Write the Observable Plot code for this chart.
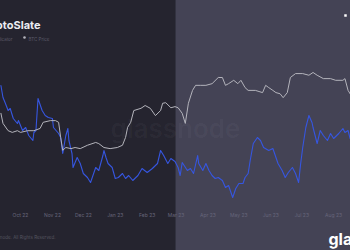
<!DOCTYPE html>
<html><head><meta charset="utf-8">
<script src="https://cdn.jsdelivr.net/npm/d3@7"></script>
<script src="https://cdn.jsdelivr.net/npm/@observablehq/plot@0.6"></script>
<style>html,body{margin:0;padding:0;background:#25242f;overflow:hidden}</style>
</head><body><div id="chart"></div><script>
// BTC price (USD)
const priceDates = ["2022-09-12","2022-09-14","2022-09-19","2022-09-23","2022-09-28","2022-10-01","2022-10-08","2022-10-14","2022-10-20","2022-10-23","2022-10-30","2022-11-04","2022-11-07","2022-11-09","2022-11-11","2022-11-14","2022-11-19","2022-11-23","2022-11-28","2022-12-05","2022-12-13","2022-12-16","2022-12-21","2022-12-27","2023-01-03","2023-01-08","2023-01-11","2023-01-13","2023-01-16","2023-01-19","2023-01-26","2023-01-30","2023-02-04","2023-02-09","2023-02-14","2023-02-16","2023-02-19","2023-02-24","2023-02-28","2023-03-03","2023-03-07","2023-03-10","2023-03-13","2023-03-17","2023-03-20","2023-03-25","2023-03-30","2023-04-05","2023-04-11","2023-04-15","2023-04-18","2023-04-21","2023-04-26","2023-04-30","2023-05-03","2023-05-07","2023-05-10","2023-05-17","2023-05-24","2023-05-27","2023-05-30","2023-06-03","2023-06-06","2023-06-10","2023-06-13","2023-06-17","2023-06-20","2023-06-25","2023-07-02","2023-07-08","2023-07-12","2023-07-16","2023-07-22","2023-07-29","2023-08-03","2023-08-10","2023-08-12","2023-08-15","2023-08-17"];
const priceValues = [22600,20800,19500,19200,19500,19200,19500,19500,19900,21000,21300,21300,21000,18300,16000,16500,16300,16500,16300,16900,17400,17200,16500,16300,16500,16900,18300,20100,21000,23100,23500,24000,23500,22200,23100,24400,24500,23600,23800,23600,22600,20800,24400,26700,27600,27600,27600,27900,29000,29000,27600,27900,28500,27900,28500,27200,26700,26700,26300,27600,27200,26700,26300,26100,25400,26300,29000,29700,29700,29400,29900,29400,28800,28800,28500,28500,28800,26700,26100];

// On-chain metric (index units)
const metricDates = ["2022-09-12","2022-09-14","2022-09-16","2022-09-19","2022-09-21","2022-09-24","2022-09-28","2022-09-29","2022-10-03","2022-10-06","2022-10-09","2022-10-13","2022-10-14","2022-10-16","2022-10-18","2022-10-22","2022-10-25","2022-10-28","2022-11-01","2022-11-02","2022-11-07","2022-11-09","2022-11-11","2022-11-14","2022-11-16","2022-11-17","2022-11-20","2022-11-21","2022-11-25","2022-11-28","2022-12-01","2022-12-05","2022-12-08","2022-12-13","2022-12-16","2022-12-20","2022-12-21","2022-12-23","2022-12-25","2022-12-29","2023-01-01","2023-01-04","2023-01-08","2023-01-11","2023-01-14","2023-01-18","2023-01-23","2023-01-27","2023-02-01","2023-02-06","2023-02-11","2023-02-14","2023-02-17","2023-02-21","2023-02-24","2023-02-28","2023-03-03","2023-03-05","2023-03-07","2023-03-12","2023-03-15","2023-03-18","2023-03-22","2023-03-23","2023-03-27","2023-03-30","2023-04-02","2023-04-05","2023-04-08","2023-04-11","2023-04-15","2023-04-18","2023-04-21","2023-04-25","2023-04-28","2023-05-01","2023-05-05","2023-05-07","2023-05-10","2023-05-12","2023-05-15","2023-05-19","2023-05-22","2023-05-25","2023-05-30","2023-06-03","2023-06-06","2023-06-08","2023-06-12","2023-06-15","2023-06-18","2023-06-22","2023-06-25","2023-06-28","2023-06-30","2023-07-02","2023-07-05","2023-07-08","2023-07-11","2023-07-12","2023-07-16","2023-07-19","2023-07-22","2023-07-26","2023-07-29","2023-08-01","2023-08-06","2023-08-10","2023-08-12","2023-08-15","2023-08-17"];
const metricValues = [120,108,103,95,97,87,82,85,75,78,70,65,73,75,107,95,90,88,87,78,72,68,52,70,77,65,52,38,48,42,32,28,23,38,35,50,55,48,42,38,27,28,32,27,30,25,30,37,33,37,42,55,50,42,47,44,38,30,43,35,37,32,50,42,35,42,35,30,27,28,25,18,20,8,17,22,22,28,32,45,62,68,65,58,55,57,48,42,35,28,33,38,32,23,42,58,78,90,83,78,62,75,70,65,72,67,72,77,73,75,67];

// Highlighted period
const highlightStart = ["2023-03-01"];
// x-axis tick months and labels
const tickDates = ["2022-10-01","2022-11-01","2022-12-01","2023-01-01","2023-02-01","2023-03-01","2023-04-01","2023-05-01","2023-06-01","2023-07-01","2023-08-01"];
const tickLabels = ["Oct 22","Nov 22","Dec 22","Jan 23","Feb 23","Mar 23","Apr 23","May 23","Jun 23","Jul 23","Aug 23"];
// Legend
const legendLabels = ["Market Indicator","BTC Price"];

const xDomain = [new Date("2022-09-11T14:00Z"), new Date("2023-08-17T09:00Z")];
const priceDomain = [-1893, 42750];
// secondary (metric) axis mapped onto the price axis
const metricAxis = d3.scaleLinear().domain([0, 120]).range([6143, 27571]);

const price = priceDates.map((d, i) => ({date: new Date(d), value: priceValues[i]}));
const metric = metricDates.map((d, i) => ({date: new Date(d), value: metricAxis(metricValues[i])}));
const highlight = highlightStart.map(d => ({start: new Date(d), end: xDomain[1]}));
const ticks = tickDates.map((d, i) => ({date: new Date(d), label: tickLabels[i]}));

const font = "Inter, 'Noto Sans', sans-serif";
const chart = Plot.plot({
  width: 350, height: 250, margin: 0,
  style: {background: "#25242f", fontFamily: font},
  x: {type: "utc", domain: xDomain, axis: null},
  y: {domain: priceDomain, axis: null},
  marks: [
    Plot.rect(highlight, {x1: "start", x2: "end", fill: "#444355"}),
    Plot.text(["glassnode"], {frameAnchor: "middle", dy: 4, text: d => d, fontSize: 26, fontWeight: 600, fill: "#ffffff", fillOpacity: 0.04}),
    Plot.line(metric, {x: "date", y: "value", stroke: "#3656e0", strokeWidth: 1.1}),
    Plot.line(price, {x: "date", y: "value", stroke: "#b4b4bc", strokeWidth: 1}),
    Plot.text(ticks, {x: "date", text: "label", frameAnchor: "bottom", dy: -34, fontSize: 5, fill: "#66657a"}),
    Plot.text(["CryptoSlate"], {frameAnchor: "top-left", dx: 40, dy: 21, text: d => d, textAnchor: "end", fontSize: 11, fontWeight: 700, fill: "#ececf2"}),
    Plot.text([legendLabels[0]], {frameAnchor: "top-left", dx: 12, dy: 37, text: d => d, textAnchor: "end", fontSize: 4.5, fill: "#5c5b6a"}),
    Plot.dot([legendLabels[1]], {frameAnchor: "top-left", dx: 24, dy: 37, r: 1.3, fill: "#b4b4bc"}),
    Plot.text([legendLabels[1]], {frameAnchor: "top-left", dx: 28, dy: 37, text: d => d, textAnchor: "start", fontSize: 4.5, fill: "#5c5b6a"}),
    Plot.dot(["marker"], {frameAnchor: "top-left", dx: 345, dy: 15, r: 1.4, symbol: "square", fill: "#ffffff"}),
    Plot.text(["© 2023 Glassnode. All Rights Reserved."], {frameAnchor: "top-left", dx: 55, dy: 235, text: d => d, textAnchor: "end", fontSize: 4.5, fill: "#55545f"}),
    Plot.text(["glassnode"], {frameAnchor: "top-left", dx: 328, dy: 233, text: d => d, textAnchor: "start", fontSize: 16, fontWeight: 700, fill: "#ffffff"})
  ]
});
document.getElementById("chart").append(chart);
</script></body></html>
